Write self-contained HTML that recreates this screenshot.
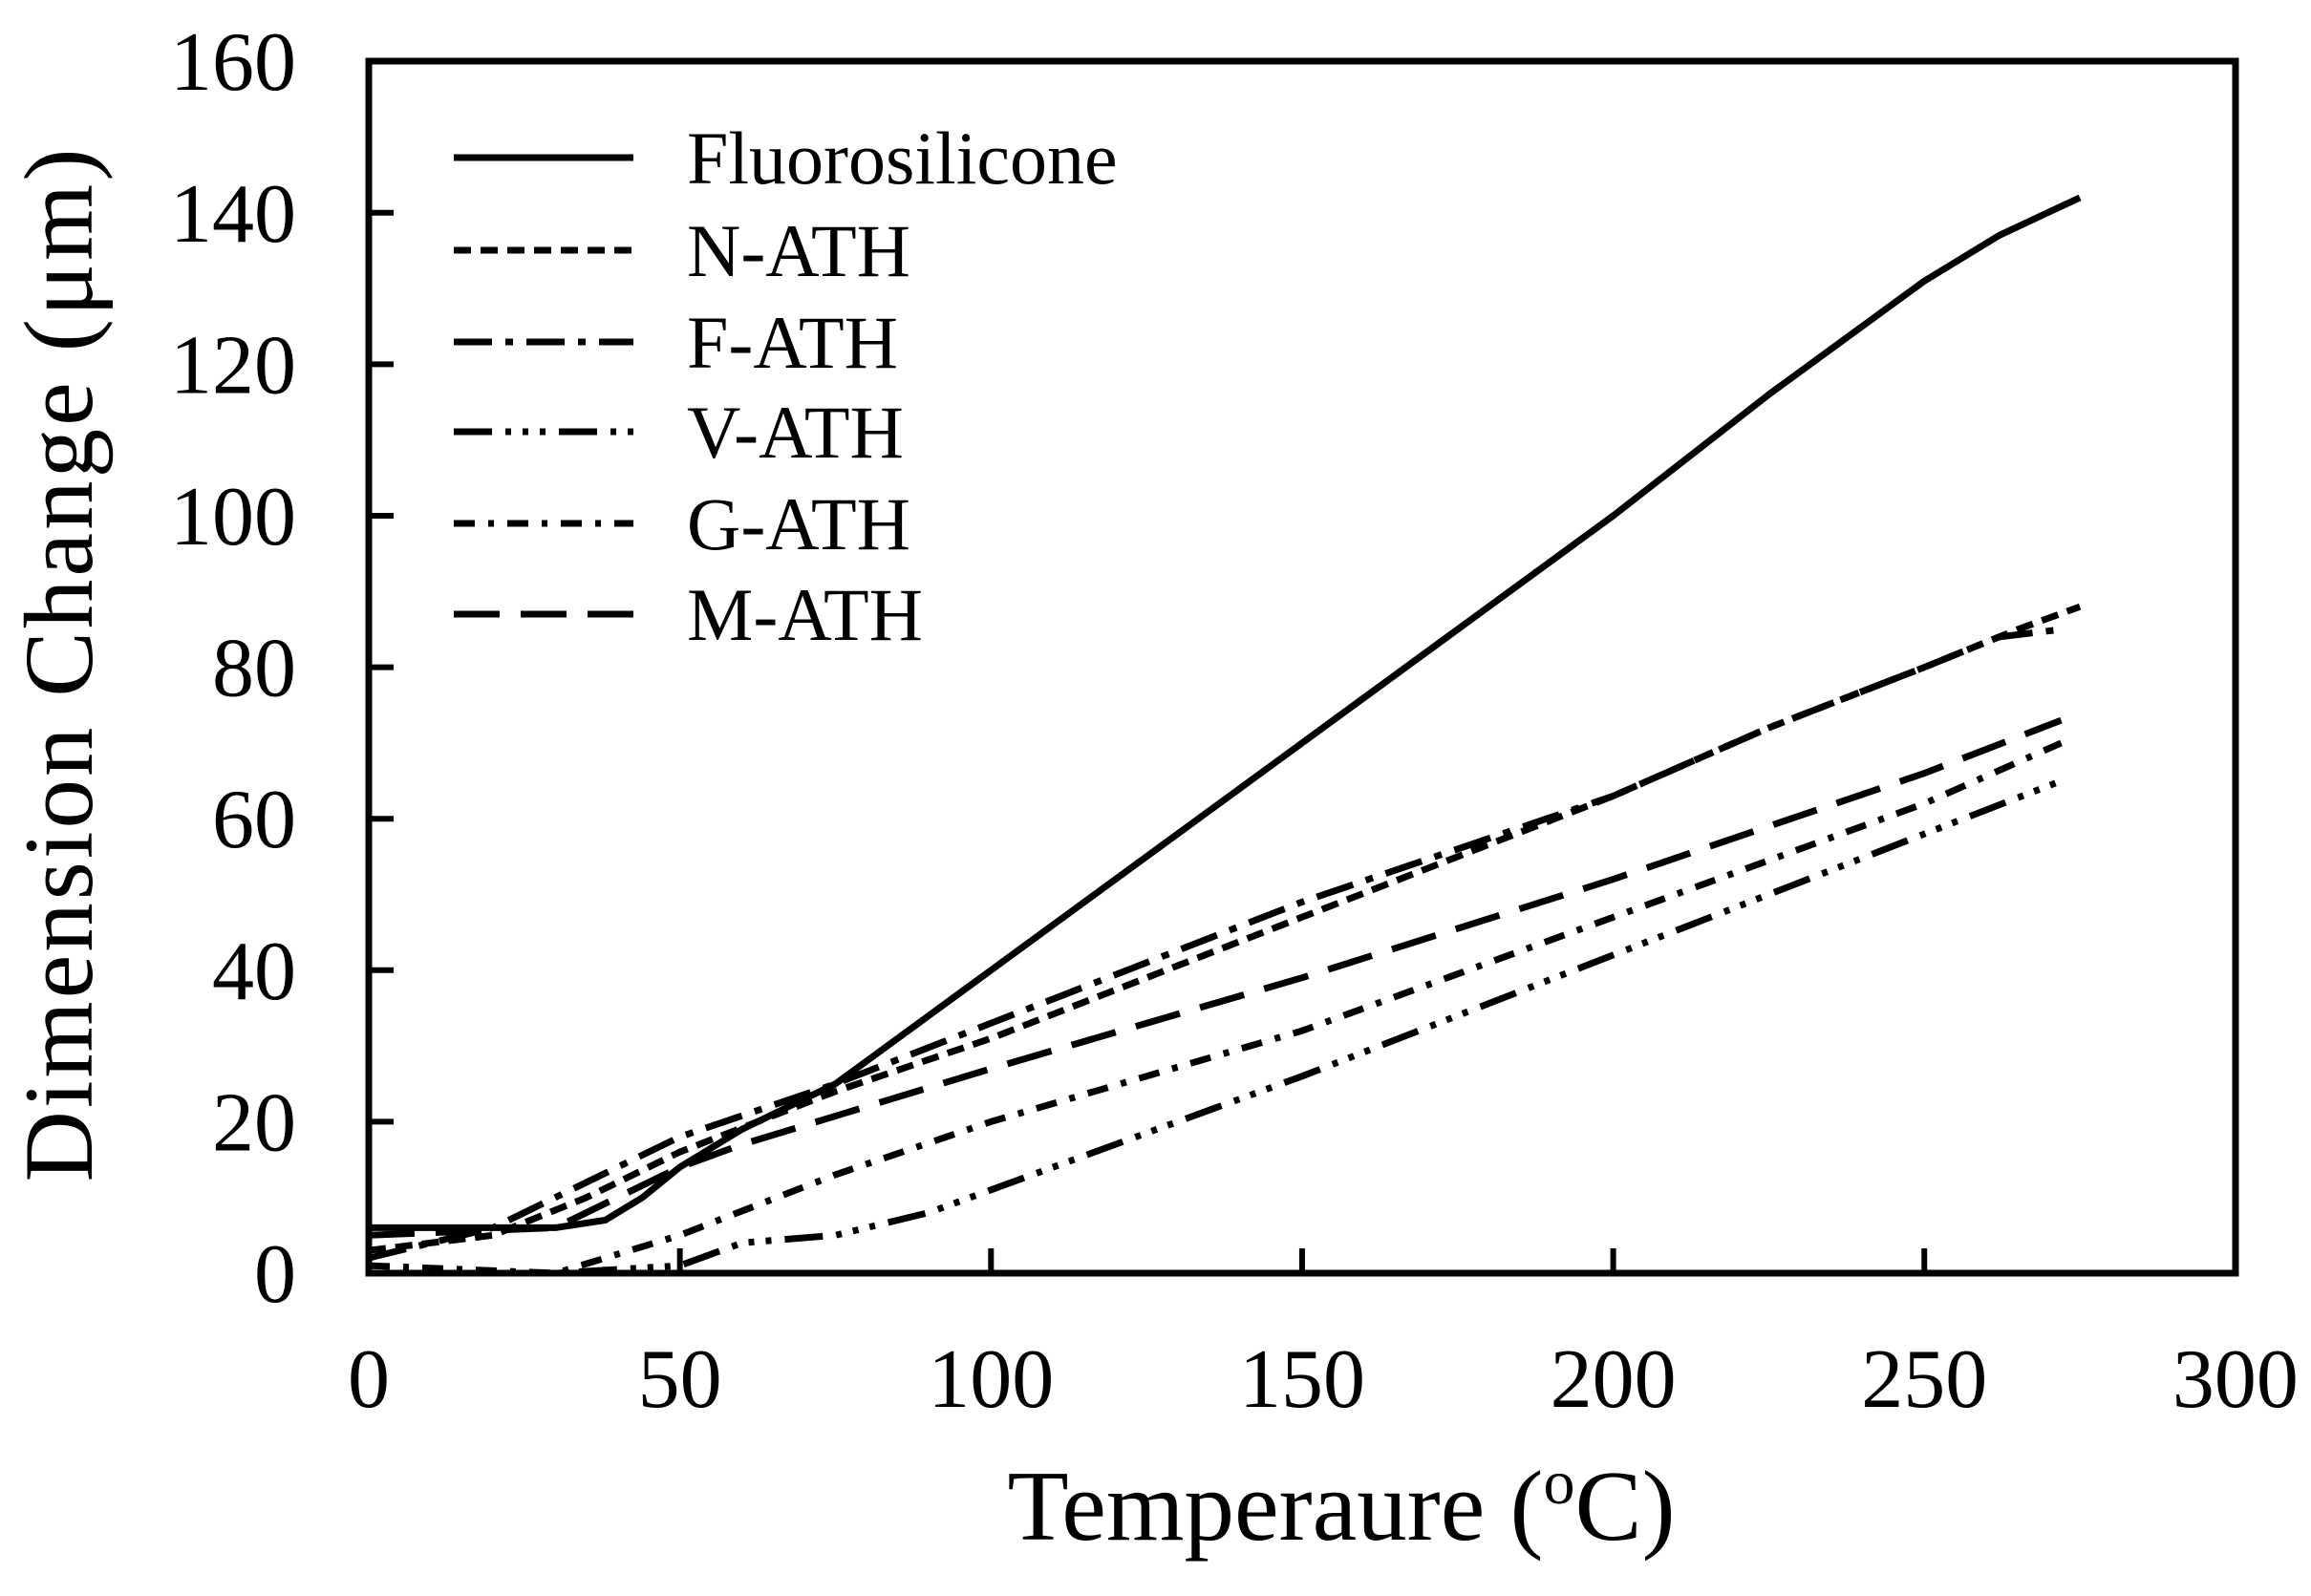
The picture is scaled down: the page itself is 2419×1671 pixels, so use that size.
<!DOCTYPE html>
<html><head><meta charset="utf-8"><style>
body{margin:0;background:#fff;}
svg text{font-family:"Liberation Serif",serif;fill:#000;}
</style></head><body>
<svg id="s" width="2419" height="1666" xmlns="http://www.w3.org/2000/svg">
<rect x="386" y="64" width="1954" height="1269" fill="none" stroke="#000" stroke-width="7"/>
<g id="ticks" stroke="#000" stroke-width="6"></g>
<g id="lab" font-size="88"></g>
<text x="1404" y="1612" font-size="105" text-anchor="middle">Temperaure (<tspan font-size="66" dy="-38">o</tspan><tspan dy="38">C</tspan>)</text>
<text transform="translate(96,695) rotate(-90)" font-size="103" text-anchor="middle" letter-spacing="3">Dimension  Change (μm)</text>
<g id="leg" font-size="78"></g>
<g id="series" fill="none" stroke="#000" stroke-width="7" stroke-linejoin="round"></g>
</svg>
<script>
const NS="http://www.w3.org/2000/svg";
const X=t=>386+6.513*t, Y=v=>1333-7.93*v;
function el(tag,attrs,parent,txt){const e=document.createElementNS(NS,tag);for(const k in attrs)e.setAttribute(k,attrs[k]);if(txt!=null)e.textContent=txt;parent.appendChild(e);return e;}
const tk=document.getElementById('ticks'),lab=document.getElementById('lab');
for(let v=0;v<=160;v+=20){const y=Y(v);if(v>0&&v<160)el('line',{x1:386,y1:y,x2:412,y2:y},tk);el('text',{x:310,y:y+30,'text-anchor':'end'},lab,String(v));}
for(let t=0;t<=300;t+=50){const x=X(t);if(t>0&&t<300)el('line',{x1:x,y1:1333,x2:x,y2:1307},tk);el('text',{x:x,y:1473,'text-anchor':'middle'},lab,String(t));}
const S=[
["Fluorosilicone","",[[0,6],[30,6],[38,7],[44,10],[50,14],[60,19],[75,25],[100,40],[150,70],[200,100],[225,116],[250,131],[262,137],[275,142]]],
["N-ATH","18 10",[[0,3],[20,5],[35,10],[50,16],[75,24],[100,31],[150,47],[175,55],[200,63],[225,72],[250,80],[265,85],[275,88]]],
["F-ATH","40 14 8 14",[[0,2],[20,6],[35,12],[50,18],[75,25],[100,33],[150,49],[175,56],[200,63],[225,72],[250,80],[262,84],[272,85]]],
["V-ATH","40 14 6 12 6 12 6 14",[[0,0],[30,0],[50,1],[60,4],[75,5],[90,8],[100,11],[150,26],[200,42],[250,58],[272,65]]],
["G-ATH","22 14 6 14",[[0,1],[30,0],[50,5],[75,13],[100,20],[150,32],[200,47],[250,62],[272,70]]],
["M-ATH","48 22",[[0,5],[30,6],[50,14],[60,17],[100,27],[150,39],[200,52],[250,66],[272,73]]]
];
const sg=document.getElementById('series'),lg=document.getElementById('leg');
const ly=[165,262,358,452,548,643];
S.forEach((s,i)=>{
 const a={d:'M'+s[2].map(p=>X(p[0]).toFixed(1)+','+Y(p[1]).toFixed(1)).join(' L')};
 if(s[1])a['stroke-dasharray']=s[1];
 el('path',a,sg);
 const b={d:`M475,${ly[i]} L663,${ly[i]}`};if(s[1])b['stroke-dasharray']=s[1];
 el('path',b,sg);
 el('text',{x:719,y:ly[i]+27},lg,s[0]);
});
</script>
</body></html>
